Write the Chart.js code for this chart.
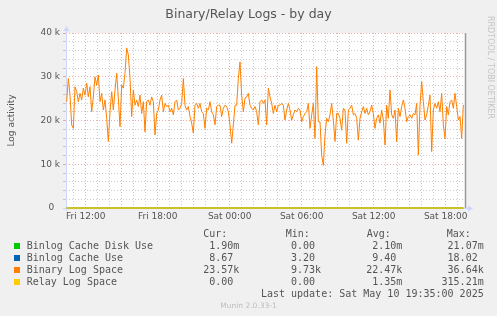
<!DOCTYPE html>
<html><head><meta charset="utf-8">
<script src="https://cdn.jsdelivr.net/npm/chart.js@4/dist/chart.umd.min.js"></script>
<style>
html,body{margin:0;padding:0;background:#F0F0F0;}
#wrap{position:relative;width:497px;height:316px;overflow:hidden;background:#F0F0F0;}
canvas{position:absolute;left:0;top:0;}
.t{position:absolute;white-space:pre;font-family:'DejaVu Sans';color:#555;}
.m{position:absolute;white-space:pre;font-family:'DejaVu Sans Mono';font-size:10px;line-height:12px;color:#555;}
.sw{position:absolute;width:6px;height:6px;}
</style></head><body>
<div id="wrap">
<canvas id="c" width="497" height="316"></canvas>
</div>
<script>
// ---------- data ----------
const chartTitle = 'Binary/Relay Logs - by day';
const yAxisTitle = 'Log activity';
const sideText = 'RRDTOOL / TOBI OETIKER';
const footerText = 'Munin 2.0.33-1';
const lastUpdateText = 'Last update: Sat May 10 19:35:00 2025';

// time axis in hours counted from Fri 00:00
const xMinHour = 10.361;          // Fri 10:22
const xMaxHour = 43.694;          // Sat 19:42
const lastUpdateHour = 43.583;    // Sat 19:35
const xTickHours = [12, 18, 24, 30, 36, 42];
const xTickLabels = ['Fri 12:00', 'Fri 18:00', 'Sat 00:00', 'Sat 06:00', 'Sat 12:00', 'Sat 18:00'];

const yTickValues = [0, 10000, 20000, 30000, 40000];
const yTickLabels = ['0', '10 k', '20 k', '30 k', '40 k'];

// readings of the Binary Log Space line, one every ~8.3 minutes
const sampleStartHour = 10.417;
const sampleStepHour = 0.13889;
const binaryLogSpace = [
 24300,29600,25800,19000,18200,27700,26600,24300,26200,24700,27400,25800,28500,25400,27700,22000,
 25400,30000,28100,30400,24300,26200,22400,24700,20500,15200,22000,26600,22400,27000,30800,25100,
 18600,28100,27400,30800,36600,35000,29600,20900,27000,23500,24700,23200,25800,21600,24300,17400,
 24300,24700,23500,25400,24300,16700,21600,22400,24700,25800,22000,23900,23200,23500,22000,22800,
 21300,24300,24700,22400,22800,23900,29600,23500,22400,23200,20900,19400,17100,23500,23900,22800,
 23900,22000,21600,18200,22800,22400,24300,22000,21300,19000,23200,23500,23500,20900,22800,23500,
 23200,22000,19000,14800,19000,23500,23500,29600,33400,25800,22000,25100,25400,26200,23500,22800,
 22400,23200,22000,19000,24300,24700,23900,24700,19000,27400,25400,23900,21600,23500,22000,23500,
 23500,23900,23500,20100,22400,23900,22400,20100,21300,22400,22000,22800,22400,19700,20900,21600,
 22000,23900,18200,21300,23900,15900,32300,19700,19700,12100,9730,16700,20500,19700,21300,23900,
 20100,15200,21600,21600,20500,17800,22800,22400,14800,22400,22800,23500,21300,21600,20500,15500,
 20500,22000,23200,21600,22800,21300,22000,23500,21600,18200,20500,21300,19400,22400,20100,14400,
 23500,20500,27000,21300,20500,22400,15200,22800,20900,23200,24700,22800,19700,20900,21300,20500,
 21600,21300,23900,12100,23500,28900,24300,20100,21300,23500,25800,12900,22400,23900,22800,24300,
 22000,26200,19000,15900,23200,21300,24300,24700,22800,26200,23200,20100,20900,15900,23570
];
// the other three series stay at (almost) zero on this scale: start / end readings
const flatHours = [10.417, 43.47];
const binlogCacheDiskUse = [0.0021, 0.0019];
const binlogCacheUse = [9.40, 8.67];
const relayLogSpace = [0, 0];

const seriesNames = ['Binlog Cache Disk Use', 'Binlog Cache Use', 'Binary Log Space', 'Relay Log Space'];
const seriesColors = ['#00CC00', '#0066B3', '#FF8000', '#FFCC00'];
const curValues = ['1.90m', '8.67 ', '23.57k', '0.00 '];
const minValues = ['0.00 ', '3.20 ', '9.73k', '0.00 '];
const avgValues = ['2.10m', '9.40 ', '22.47k', '1.35m'];
const maxValues = ['21.07m', '18.02 ', '36.64k', '315.21m'];
const columnHeads = ['Cur:', 'Min:', 'Avg:', 'Max:'];

// ---------- page text ----------
const wrap = document.getElementById('wrap');
function addDiv(cls, text, style) {
  const d = document.createElement('div');
  d.className = cls; d.textContent = text;
  Object.assign(d.style, style);
  wrap.appendChild(d); return d;
}
addDiv('t', chartTitle, {left:'0px', width:'497px', textAlign:'center', top:'6px', fontSize:'12.5px', lineHeight:'15px'});
addDiv('t', sideText, {left:'485px', top:'16px', fontSize:'8px', lineHeight:'10px', color:'#c4c4c4', writingMode:'vertical-rl'});
const headLeft = [203.3, 285.7, 366.7, 446.7];
const colRight = [239.3, 321, 402.3, 483.7];
columnHeads.forEach((h, i) => addDiv('m', h, {left: headLeft[i] + 'px', top:'228px'}));
const cols = [curValues, minValues, avgValues, maxValues];
seriesNames.forEach((name, r) => {
  const top = 240 + r * 12;
  const sw = document.createElement('div');
  sw.className = 'sw'; sw.style.left = '14px'; sw.style.top = (top + 2.5) + 'px';
  sw.style.background = seriesColors[r]; wrap.appendChild(sw);
  addDiv('m', name, {left:'26.7px', top: top + 'px'});
  cols.forEach((c, i) => addDiv('m', c[r], {right: (497 - colRight[i]) + 'px', top: top + 'px', textAlign:'right'}));
});
addDiv('m', lastUpdateText, {right: (497 - 483.7) + 'px', top:'288px'});
addDiv('t', footerText, {left:'0px', width:'497px', textAlign:'center', top:'300.5px', fontSize:'7.5px', lineHeight:'10px', color:'#bdbdbd'});

// ---------- chart ----------
const binaryPoints = binaryLogSpace.map((v, i) => ({x: sampleStartHour + i * sampleStepHour, y: v}));
const flat = arr => arr.map((v, i) => ({x: flatHours[i], y: v}));

const MAJOR = 'rgba(232,150,150,0.8)';
const MINOR = 'rgba(185,185,185,0.75)';

const muninPlugin = {
  id: 'munin',
  beforeDraw(chart) {
    const {ctx, chartArea: a} = chart;
    ctx.save();
    ctx.fillStyle = '#FFFFFF';
    ctx.fillRect(a.left, a.top, a.right - a.left, a.bottom - a.top);
    ctx.restore();
  },
  beforeDatasetsDraw(chart) {
    const {ctx, chartArea: a} = chart;
    ctx.save();
    ctx.strokeStyle = '#CFD6F8'; ctx.fillStyle = '#CFD6F8'; ctx.lineWidth = 1;
    const lx = Math.round(a.left) + 0.5;
    ctx.beginPath(); ctx.moveTo(lx, a.bottom + 3); ctx.lineTo(lx, a.top - 3); ctx.stroke();
    ctx.beginPath(); ctx.moveTo(lx - 3, a.top - 2); ctx.lineTo(lx + 3, a.top - 2); ctx.lineTo(lx, a.top - 7); ctx.closePath(); ctx.fill();
    const by = Math.round(a.bottom) + 0.5;
    ctx.beginPath(); ctx.moveTo(a.left - 3, by); ctx.lineTo(a.right + 3, by); ctx.stroke();
    ctx.beginPath(); ctx.moveTo(a.right + 2, by - 3); ctx.lineTo(a.right + 2, by + 3); ctx.lineTo(a.right + 7, by); ctx.closePath(); ctx.fill();
    ctx.restore();
  },
  afterDatasetsDraw(chart) {
    const {ctx, chartArea: a, scales: {x}} = chart;
    const nx = Math.round(x.getPixelForValue(lastUpdateHour)) + 0.5;
    ctx.save();
    ctx.strokeStyle = '#999999'; ctx.lineWidth = 1.5;
    ctx.beginPath(); ctx.moveTo(nx, a.top); ctx.lineTo(nx, a.bottom); ctx.stroke();
    ctx.restore();
  }
};

new Chart(document.getElementById('c'), {
  type: 'line',
  data: {
    datasets: [
      {label: seriesNames[3], data: flat(relayLogSpace), borderColor: seriesColors[3], order: 0, clip: 3, borderWidth: 1.4},
      {label: seriesNames[2], data: binaryPoints, borderColor: seriesColors[2], order: 1, clip: 3},
      {label: seriesNames[1], data: flat(binlogCacheUse), borderColor: seriesColors[1], order: 2, clip: 3},
      {label: seriesNames[0], data: flat(binlogCacheDiskUse), borderColor: seriesColors[0], order: 3, clip: 3}
    ]
  },
  options: {
    responsive: false,
    devicePixelRatio: 1,
    animation: false,
    layout: {padding: {top: 33, right: 31, bottom: 0, left: 0}},
    elements: {line: {borderWidth: 1, tension: 0}, point: {radius: 0}},
    plugins: {legend: {display: false}, tooltip: {enabled: false}},
    scales: {
      x: {
        type: 'linear', min: xMinHour, max: xMaxHour,
        afterFit(s) { s.height = 108; },
        grid: {
          color: c => (c.tick && Math.abs(c.tick.value % 3) < 1e-6) ? MAJOR : MINOR,
          drawTicks: false
        },
        border: {display: false, dash: [1, 2]},
        ticks: {
          stepSize: 1, maxTicksLimit: 200, includeBounds: false, autoSkip: false, maxRotation: 0,
          padding: 3, color: '#555', font: {family: 'DejaVu Sans', size: 9},
          callback: v => { const i = xTickHours.indexOf(Math.round(v)); return (i >= 0 && Math.abs(v - xTickHours[i]) < 1e-6) ? xTickLabels[i] : ''; }
        }
      },
      y: {
        min: 0, max: 40000,
        afterFit(s) { s.width = 66; },
        grid: {
          color: c => (c.tick && c.tick.value % 10000 === 0) ? MAJOR : MINOR,
          tickLength: 3
        },
        border: {display: false, dash: [1, 2]},
        title: {display: true, text: yAxisTitle, color: '#555', font: {family: 'DejaVu Sans', size: 9}, padding: {top: 6, bottom: 0}},
        ticks: {
          stepSize: 2000, autoSkip: false, padding: 3, color: '#555', font: {family: 'DejaVu Sans', size: 9},
          callback: v => { const i = yTickValues.indexOf(v); return i < 0 ? '' : (i === 0 ? yTickLabels[i] + '  ' : yTickLabels[i]); }
        }
      }
    }
  },
  plugins: [muninPlugin]
});
</script>
</body></html>
